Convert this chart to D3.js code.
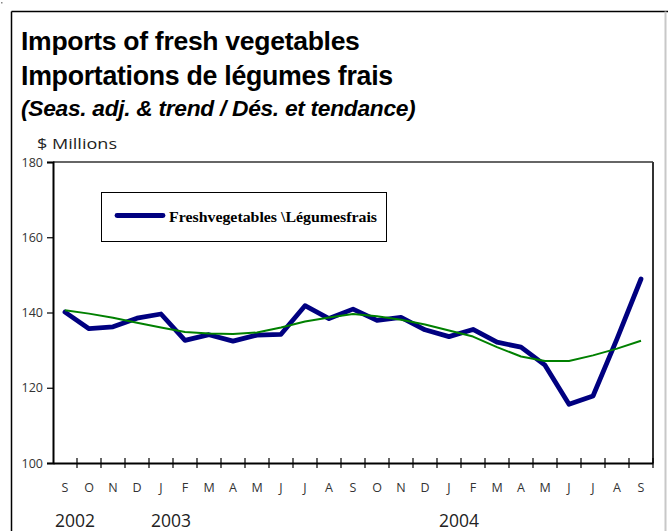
<!DOCTYPE html>
<html><head><meta charset="utf-8">
<script src="https://cdn.jsdelivr.net/npm/d3@7"></script>
<style>html,body{margin:0;padding:0;background:#fff;}svg{display:block;}</style>
</head><body>
<svg id="chart" width="668" height="531"></svg>
<script>
const months = ["S","O","N","D","J","F","M","A","M","J","J","A","S","O","N","D","J","F","M","A","M","J","J","A","S"];
const freshVegetables = [140.1,135.7,136.2,138.5,139.6,132.6,134.1,132.4,134.0,134.2,141.8,138.4,140.9,137.9,138.7,135.4,133.6,135.5,132.1,130.8,126.0,115.6,117.8,133.0,148.9];
const trend = [140.6,139.7,138.6,137.3,136.0,134.8,134.4,134.3,134.7,136.0,137.6,138.7,139.6,139.0,138.1,136.8,135.2,133.6,130.8,128.3,127.1,127.1,128.6,130.4,132.5];
const yTicks = [100,120,140,160,180];
const years = [{label:"2002", idx:0},{label:"2003", idx:4},{label:"2004", idx:16}];
const titleLines = ["Imports of fresh vegetables","Importations de légumes frais"];
const subtitle = "(Seas. adj. & trend / Dés. et tendance)";
const unitLabel = "$ Millions";
const legendLabel = "Freshvegetables \\Légumesfrais";

const svg = d3.select("#chart");
const idx = d3.range(months.length);
const x = d3.scaleBand().domain(idx).range([53,653]);
const cx = i => x(i) + x.bandwidth()/2;
const y = d3.scaleLinear().domain([100,180]).range([463,162]);

// fit a text's font size so that its natural width matches a target width
function fitWidth(sel, target){
  const fs = +sel.attr("font-size");
  const w = sel.node().getComputedTextLength();
  if (w > 0) sel.attr("font-size", fs * target / w);
  return sel;
}

// outer frame
svg.append("line").attr("x1",11.5).attr("y1",11.5).attr("x2",668).attr("y2",11.5).attr("stroke","#000").attr("stroke-width",1.5);
svg.append("line").attr("x1",11.5).attr("y1",11.5).attr("x2",11.5).attr("y2",531).attr("stroke","#000").attr("stroke-width",1.5);
svg.append("line").attr("x1",665.5).attr("y1",11.5).attr("x2",665.5).attr("y2",531).attr("stroke","#c8c8c8").attr("stroke-width",2);
svg.append("rect").attr("x",1).attr("y",2).attr("width",1.5).attr("height",1.5).attr("fill","#888");

// titles
const tw = [337, 370];
const tb = [50, 85];
titleLines.forEach((t,i)=>{
  const s = svg.append("text").attr("x",21).attr("y",tb[i]).text(t)
    .attr("font-family","Liberation Sans, Arial, sans-serif").attr("font-weight","bold").attr("font-size",22)
    .attr("letter-spacing",-0.3).attr("fill","#000");
  fitWidth(s, tw[i]);
});
fitWidth(svg.append("text").attr("x",21).attr("y",116).text(subtitle)
  .attr("font-family","Liberation Sans, Arial, sans-serif").attr("font-weight","bold").attr("font-style","italic").attr("font-size",20)
  .attr("letter-spacing",-0.3).attr("fill","#000"), 393);
svg.append("text").attr("x",37).attr("y",149).text(unitLabel)
  .attr("font-family","Open Sans, sans-serif").attr("font-size",14).attr("fill","#222")
  .attr("textLength",80).attr("lengthAdjust","spacingAndGlyphs");

// plot frame top/right
svg.append("line").attr("x1",53).attr("x2",653).attr("y1",y(180)).attr("y2",y(180)).attr("stroke","#333").attr("stroke-width",1.5);
svg.append("line").attr("x1",653).attr("x2",653).attr("y1",y(180)).attr("y2",y(100)).attr("stroke","#333").attr("stroke-width",2);

// y axis
const yAxis = svg.append("g").attr("transform","translate(53,0)")
  .call(d3.axisLeft(y).tickValues(yTicks).tickSize(6).tickPadding(4).tickFormat(d3.format("d")));
yAxis.select(".domain").attr("stroke","#000").attr("stroke-width",2);
yAxis.selectAll(".tick line").attr("stroke","#000").attr("stroke-width",1.2);
yAxis.selectAll("text").attr("font-family","Open Sans, sans-serif").attr("font-size",12.5).attr("fill","#333");

// x axis
const xAxis = svg.append("g").attr("transform",`translate(0,${y(100)})`)
  .call(d3.axisBottom(x).tickValues([]).tickSizeOuter(0));
xAxis.select(".domain").attr("stroke","#000").attr("stroke-width",2);
const bounds = d3.range(1, months.length+1).map(i => i < months.length ? x(i) : x(months.length-1)+x.bandwidth());
svg.append("g").selectAll("line").data(bounds).join("line")
  .attr("x1",d=>d).attr("x2",d=>d).attr("y1",y(100)-5).attr("y2",y(100)+5)
  .attr("stroke","#000").attr("stroke-width",1.2);
svg.append("g").selectAll("text").data(idx).join("text")
  .attr("x",d=>cx(d)).attr("y",492).attr("text-anchor","middle").text(d=>months[d])
  .attr("font-family","Open Sans, sans-serif").attr("font-size",12.5).attr("fill","#333");
svg.append("g").selectAll("text").data(years).join("text")
  .attr("x",d=>cx(d.idx)+10).attr("y",527).attr("text-anchor","middle").text(d=>d.label)
  .attr("font-family","Open Sans, sans-serif").attr("font-size",17.5).attr("fill","#222");

// lines
const line = d3.line().x((d,i)=>cx(i)).y(d=>y(d));
svg.append("path").datum(freshVegetables).attr("d",line).attr("fill","none")
  .attr("stroke","#000080").attr("stroke-width",4.8).attr("stroke-linejoin","round").attr("stroke-linecap","round");
svg.append("path").datum(trend).attr("d",line).attr("fill","none")
  .attr("stroke","#008000").attr("stroke-width",2).attr("stroke-linejoin","round");

// legend
svg.append("rect").attr("x",101.5).attr("y",192.5).attr("width",285).attr("height",49)
  .attr("fill","#fff").attr("stroke","#000").attr("stroke-width",1);
svg.append("line").attr("x1",117).attr("x2",163).attr("y1",215.5).attr("y2",215.5)
  .attr("stroke","#000080").attr("stroke-width",4.8).attr("stroke-linecap","round");
svg.append("text").attr("x",169).attr("y",222).text(legendLabel)
  .attr("font-family","Liberation Serif, Times New Roman, serif").attr("font-weight","bold").attr("font-size",14)
  .attr("textLength",208).attr("lengthAdjust","spacingAndGlyphs").attr("fill","#000");
</script>
</body></html>
